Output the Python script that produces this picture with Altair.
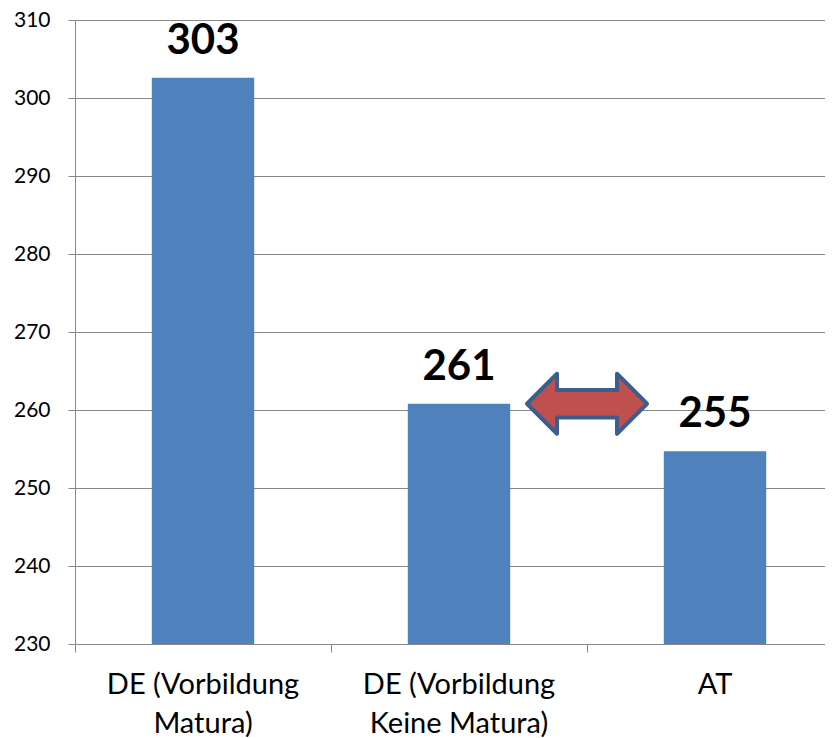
import altair as alt
import pandas as pd

categories = ["DE (Vorbildung|Matura)", "DE (Vorbildung|Keine Matura)", "AT"]
values = [302.6, 260.8, 254.7]
labels = ["303", "261", "255"]

# double arrow placed at the boundary after the second category, at its bar height
arrow_cat = ["DE (Vorbildung|Keine Matura)"]
arrow_val = [260.8]

df = pd.DataFrame({"cat": categories, "val": values, "lab": labels})
arrow_df = pd.DataFrame({"cat": arrow_cat, "val": arrow_val})

FONT = "Lato"
GRID = "#878787"
YDOM = [230, 310]

x_scale = alt.Scale(domain=categories, paddingInner=0, paddingOuter=0, range=[0, 768])
y_scale = alt.Scale(domain=YDOM, zero=False, nice=False)

x_enc = alt.X(
    "cat:N",
    sort=categories,
    title=None,
    scale=x_scale,
    axis=alt.Axis(
        bandPosition=0,
        labelAngle=0,
        labelExpr="split(datum.label, '|')",
        labelFont=FONT,
        labelFontSize=29,
        labelColor="#000000",
        labelLineHeight=39,
        labelPadding=18,
        labelBaseline="top",
        labelLimit=500,
        tickSize=8,
        tickColor=GRID,
        domainColor=GRID,
        grid=False,
    ),
)

y_enc = alt.Y(
    "val:Q",
    title=None,
    scale=y_scale,
    axis=alt.Axis(
        values=list(range(230, 311, 10)),
        labelFont=FONT,
        labelFontSize=21,
        labelColor="#000000",
        labelPadding=18,
        tickSize=7,
        tickColor=GRID,
        domainColor=GRID,
        gridColor=GRID,
        gridWidth=1,
    ),
)

bars = alt.Chart(df).mark_bar(color="#4F81BD", width=alt.RelativeBandSize(0.4)).encode(
    x=x_enc,
    y=y_enc,
    y2=alt.datum(230),
)

text = alt.Chart(df).mark_text(
    font=FONT, fontSize=42, fontWeight="bold", color="#000000",
    baseline="alphabetic", dy=-24,
).encode(
    x=alt.X("cat:N", sort=categories, scale=x_scale),
    y=alt.Y("val:Q", scale=y_scale),
    text="lab:N",
)

arrow_path = (
    "M -1 0 L -0.5 -0.5 L -0.5 -0.23 L 0.5 -0.23 L 0.5 -0.5 L 1 0 "
    "L 0.5 0.5 L 0.5 0.23 L -0.5 0.23 L -0.5 0.5 Z"
)

arrow = alt.Chart(arrow_df).mark_point(
    shape=arrow_path, size=14400, filled=True, fill="#C0504D",
    stroke="#3C5E8C", strokeWidth=4, opacity=1, strokeJoin="round", dx=4,
).encode(
    x=alt.X("cat:N", sort=categories, scale=x_scale, bandPosition=1),
    y=alt.Y("val:Q", scale=y_scale),
)

chart = alt.layer(bars, text, arrow).properties(
    width=750, height=624,
    autosize=alt.AutoSizeParams(type="none"),
    padding={"left": 67, "top": 12, "right": 0, "bottom": 94},
).configure_view(stroke=None).configure_axis(domainWidth=1)

chart.save("out.html", embed_options={"renderer": "svg", "actions": False})
